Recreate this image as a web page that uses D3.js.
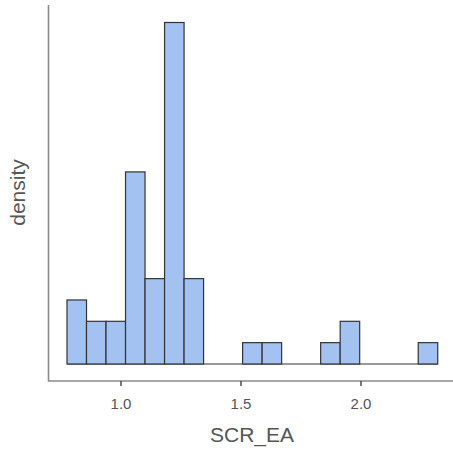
<!DOCTYPE html>
<html>
<head>
<meta charset="utf-8">
<script src="https://cdn.jsdelivr.net/npm/d3@7"></script>
<style>
  html, body { margin: 0; padding: 0; background: #fff; }
  svg { display: block; }
</style>
</head>
<body>
<div id="chart"></div>
<script>
// data: histogram of SCR_EA, bin edges + counts per bin
const binStart = 0.775;
const binWidth = 0.0813;
const counts = [3, 2, 2, 9, 4, 16, 4, 0, 0, 1, 1, 0, 0, 1, 2, 0, 0, 0, 1];
const xTicks = [1.0, 1.5, 2.0];
const xTickLabels = ['1.0', '1.5', '2.0'];

const width = 453;
const height = 452;
const total = d3.sum(counts);

const bins = counts.map((c, i) => ({
  x0: binStart + i * binWidth,
  x1: binStart + (i + 1) * binWidth,
  density: c / (total * binWidth),
}));

const x = d3.scaleLinear().domain([1.0, 1.5]).range([121, 241]);
const maxDensity = d3.max(bins, (d) => d.density);
const y = d3.scaleLinear().domain([0, maxDensity]).range([364, 22.5]);

const svg = d3.select('#chart').append('svg')
  .attr('width', width)
  .attr('height', height);

const axisColor = '#8a8a8a';
const textColor = '#555';
const font = '"Liberation Sans", Arial, sans-serif';

// baseline
svg.append('line')
  .attr('x1', x(bins[0].x0)).attr('x2', x(bins[bins.length - 1].x1))
  .attr('y1', y(0)).attr('y2', y(0))
  .attr('stroke', '#333').attr('stroke-width', 1.2);

// bars
svg.selectAll('.bar')
  .data(bins.filter((d) => d.density > 0))
  .enter()
  .append('rect')
  .attr('class', 'bar')
  .attr('x', (d) => x(d.x0))
  .attr('y', (d) => y(d.density))
  .attr('width', (d) => x(d.x1) - x(d.x0))
  .attr('height', (d) => y(0) - y(d.density))
  .attr('fill', '#a4c2f1')
  .attr('stroke', '#333')
  .attr('stroke-width', 1.2);

// axes
const axisY = 381;
const axisX = 48.5;
svg.append('path')
  .attr('d', `M${axisX},5 V${axisY} H${width}`)
  .attr('fill', 'none')
  .attr('stroke', axisColor)
  .attr('stroke-width', 1.6);

const ticks = svg.selectAll('.tick').data(xTicks).enter().append('g')
  .attr('class', 'tick')
  .attr('transform', (d) => `translate(${x(d)},${axisY})`);

ticks.append('line')
  .attr('y1', 0).attr('y2', 5)
  .attr('stroke', '#333').attr('stroke-width', 1.3);

ticks.append('text')
  .attr('y', 27.5)
  .attr('text-anchor', 'middle')
  .attr('font-family', font)
  .attr('font-size', 15)
  .attr('fill', textColor)
  .text((d, i) => xTickLabels[i]);

svg.append('text')
  .attr('x', 252)
  .attr('y', 442)
  .attr('text-anchor', 'middle')
  .attr('font-family', font)
  .attr('font-size', 21)
  .attr('fill', textColor)
  .text('SCR_EA');

svg.append('text')
  .attr('transform', 'translate(25,192.5) rotate(-90)')
  .attr('text-anchor', 'middle')
  .attr('font-family', font)
  .attr('font-size', 21)
  .attr('fill', textColor)
  .text('density');
</script>
</body>
</html>
